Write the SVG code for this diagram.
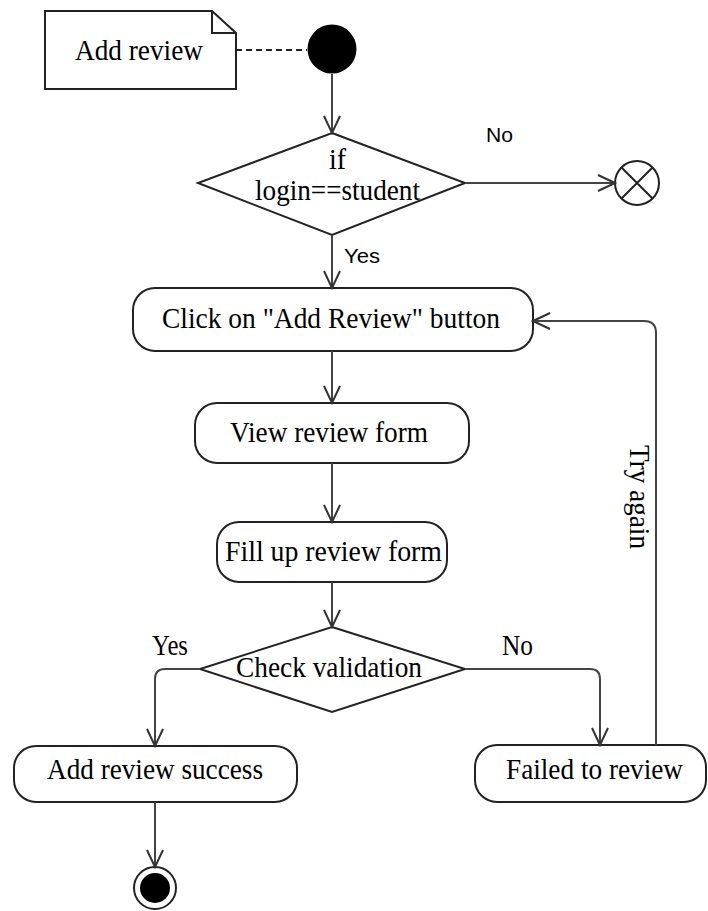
<svg xmlns="http://www.w3.org/2000/svg" width="708" height="911" viewBox="0 0 708 911">
<style>
.box{fill:#fff;stroke:#222;stroke-width:2}
.t{font-family:"Liberation Serif","Times New Roman",serif;font-size:29px;fill:#000}
.s{font-family:"Liberation Sans",Arial,sans-serif;font-size:20px;fill:#000}
.c{fill:none;stroke:#444;stroke-width:2}
</style>
<defs>
<marker id="arr" viewBox="0 0 20 20" refX="18" refY="10" markerWidth="20" markerHeight="20" markerUnits="userSpaceOnUse" orient="auto">
<path d="M1,2 L18,10 L1,18" fill="none" stroke="#333" stroke-width="2"/>
</marker>
</defs>
<g id="note">
<path class="box" d="M45,11 H212 L236,33 V89 H45 Z"/>
<path d="M212,11 V33 H236" fill="none" stroke="#222" stroke-width="2"/>
<text class="t" x="75" y="60" textLength="128" lengthAdjust="spacingAndGlyphs">Add review</text>
</g>
<g id="start"><circle cx="332" cy="49" r="24.5" fill="#000"/></g>
<g id="decision1">
<polygon class="box" points="332,133 465,183 332,235 198,183"/>
<text class="t" x="329" y="169" textLength="17" lengthAdjust="spacingAndGlyphs">if</text>
<text class="t" x="255" y="200" textLength="165" lengthAdjust="spacingAndGlyphs">login==student</text>
</g>
<g id="flowFinal">
<circle cx="637" cy="183" r="22" fill="#fff" stroke="#222" stroke-width="2"/>
<path d="M621.5,167.5 L652.5,198.5 M652.5,167.5 L621.5,198.5" stroke="#222" stroke-width="2"/>
</g>
<g id="click">
<rect class="box" x="133" y="288" width="400" height="63" rx="22"/>
<text class="t" x="162" y="328" textLength="338" lengthAdjust="spacingAndGlyphs">Click on "Add Review" button</text>
</g>
<g id="view">
<rect class="box" x="195" y="403" width="274" height="60" rx="22"/>
<text class="t" x="230" y="442" textLength="198" lengthAdjust="spacingAndGlyphs">View review form</text>
</g>
<g id="fill">
<rect class="box" x="217" y="522" width="230" height="60" rx="22"/>
<text class="t" x="225" y="561" textLength="217" lengthAdjust="spacingAndGlyphs">Fill up review form</text>
</g>
<g id="decision2">
<polygon class="box" points="332,627 465,669 332,712 200,669"/>
<text class="t" x="236" y="677" textLength="186" lengthAdjust="spacingAndGlyphs">Check validation</text>
</g>
<g id="success">
<rect class="box" x="14" y="746" width="283" height="56" rx="22"/>
<text class="t" x="47" y="779" textLength="216" lengthAdjust="spacingAndGlyphs">Add review success</text>
</g>
<g id="failed">
<rect class="box" x="475" y="745" width="231" height="57" rx="22"/>
<text class="t" x="506" y="779" textLength="177" lengthAdjust="spacingAndGlyphs">Failed to review</text>
</g>
<g id="end">
<circle cx="155" cy="888" r="21" fill="#fff" stroke="#222" stroke-width="2"/>
<circle cx="155" cy="888" r="15" fill="#000"/>
</g>
<g id="connectors">
<line x1="236" y1="50" x2="307" y2="50" stroke="#222" stroke-width="2" stroke-dasharray="6 4"/>
<line class="c" x1="332" y1="74" x2="332" y2="133" marker-end="url(#arr)"/>
<line class="c" x1="465" y1="183" x2="615" y2="183" marker-end="url(#arr)"/>
<text class="s" x="486" y="142" textLength="27" lengthAdjust="spacingAndGlyphs">No</text>
<line class="c" x1="332" y1="235" x2="332" y2="288" marker-end="url(#arr)"/>
<text class="s" x="344" y="263" textLength="36" lengthAdjust="spacingAndGlyphs">Yes</text>
<line class="c" x1="332" y1="351" x2="332" y2="403" marker-end="url(#arr)"/>
<line class="c" x1="332" y1="463" x2="332" y2="522" marker-end="url(#arr)"/>
<line class="c" x1="332" y1="582" x2="332" y2="627" marker-end="url(#arr)"/>
<path class="c" d="M200,669 H165 Q155,669 155,679 V746" marker-end="url(#arr)"/>
<text class="t" x="152" y="655" textLength="36" lengthAdjust="spacingAndGlyphs">Yes</text>
<path class="c" d="M465,669 H590 Q600,669 600,679 V745" marker-end="url(#arr)"/>
<text class="t" x="502" y="655" textLength="31" lengthAdjust="spacingAndGlyphs">No</text>
<path class="c" d="M656,745 V333 Q656,321 644,321 H533" marker-end="url(#arr)"/>
<text class="t" transform="translate(630,445) rotate(90)" textLength="104" lengthAdjust="spacingAndGlyphs">Try again</text>
<line class="c" x1="155" y1="802" x2="155" y2="867" marker-end="url(#arr)"/>
</g>
</svg>
